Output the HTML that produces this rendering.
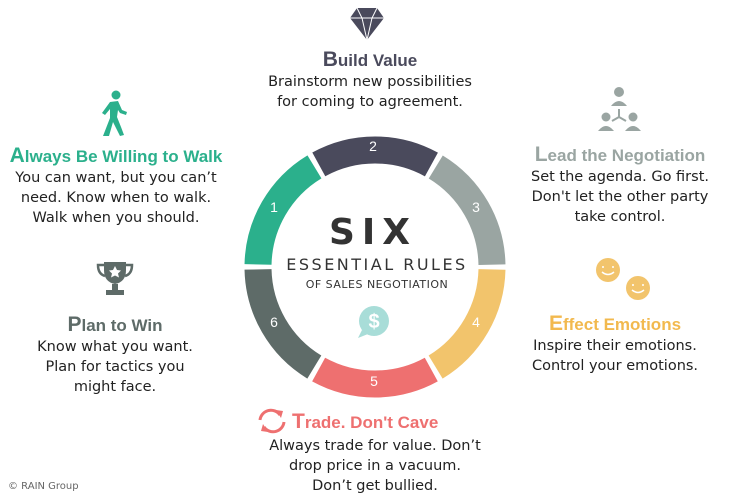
<!DOCTYPE html>
<html><head><meta charset="utf-8"><style>
body{margin:0;width:735px;height:500px;background:#fff;position:relative;overflow:hidden;font-family:"DejaVu Sans","Liberation Sans",sans-serif;}
.b{position:absolute;text-align:center;color:#222;font-size:14.5px;line-height:20px;}
.t{font-family:"Liberation Sans",sans-serif;font-weight:bold;font-size:17px;line-height:22px;white-space:nowrap;}
.t span{font-size:21px;}
</style></head><body>
<svg width="735" height="500" style="position:absolute;left:0;top:0">
<g fill="none" stroke-width="27">
<circle cx="375" cy="267" r="117" stroke="#f2c46c" stroke-dasharray="117.5 617.6" stroke-dashoffset="-2.5"/>
<circle cx="375" cy="267" r="117" stroke="#ee7070" stroke-dasharray="117.5 617.6" stroke-dashoffset="-125"/>
<circle cx="375" cy="267" r="117" stroke="#5e6b68" stroke-dasharray="117.5 617.6" stroke-dashoffset="-247.5"/>
<circle cx="375" cy="267" r="117" stroke="#2bb08c" stroke-dasharray="117.5 617.6" stroke-dashoffset="-370"/>
<circle cx="375" cy="267" r="117" stroke="#4a4a5c" stroke-dasharray="117.5 617.6" stroke-dashoffset="-492.5"/>
<circle cx="375" cy="267" r="117" stroke="#9aa5a2" stroke-dasharray="117.5 617.6" stroke-dashoffset="-615"/>
</g>
<g fill="#fff" font-size="14" font-family="Liberation Sans,sans-serif" text-anchor="middle">
<text x="373" y="151">2</text><text x="476" y="212">3</text><text x="476" y="327">4</text>
<text x="374" y="386">5</text><text x="274" y="327">6</text><text x="274" y="212">1</text></g>
<g fill="#333" text-anchor="middle" font-family="DejaVu Sans,sans-serif">
<text x="373" y="244" font-size="36" font-weight="bold" letter-spacing="7">SIX</text>
<text x="377" y="270" font-size="16" letter-spacing="2.5">ESSENTIAL RULES</text>
<text x="377" y="288" font-size="11" letter-spacing="0.5">OF SALES NEGOTIATION</text></g>
<circle cx="374" cy="321" r="15" fill="#a8ddd8"/><path d="M362 330 L358 338 L368 334Z" fill="#a8ddd8"/>
<text x="374" y="328" fill="#fff" font-size="20" font-weight="bold" text-anchor="middle" font-family="Liberation Sans">$</text>
<path d="M350 18 L357 8 L377 8 L384 18 L367 40Z" fill="#4a4a5c"/>
<path d="M350 18 L384 18 M357 8 L362 18 L367 40 L372 18 L377 8" stroke="#fff" stroke-width="1" fill="none"/>
<g fill="#2bb08c"><circle cx="116" cy="95" r="4.5"/>
<path d="M110 102 L118 101 L122 110 L127 112 L126 115 L120 113 L118 110 L117 117 L121 127 L124 135 L120 136 L113 122 L109 136 L103 136 L110 118 L110 109 L105 115 L102 113Z"/></g>
<g fill="#9aa5a2"><circle cx="619" cy="92" r="5"/><path d="M611 106 q8-10 16 0z"/>
<circle cx="606" cy="117" r="4.5"/><path d="M598 131 q8-10 16 0z"/>
<circle cx="633" cy="117" r="4.5"/><path d="M625 131 q8-10 16 0z"/>
<path d="M619 109 v8 M619 117 l-7 4 M619 117 l7 4" stroke="#9aa5a2" stroke-width="2"/></g>
<g fill="#5e6b68"><path d="M104 262 h22 v8 q0 12 -11 14 q-11 -2 -11 -14z"/>
<path d="M104 265 h-6 q0 9 7 11 M126 265 h6 q0 9 -7 11" stroke="#5e6b68" stroke-width="2.5" fill="none"/>
<rect x="112" y="284" width="6" height="6"/><rect x="106" y="290" width="18" height="5"/></g>
<path d="M115 266 l2 4 4 .5 -3 3 1 4 -4 -2 -4 2 1 -4 -3 -3 4 -.5z" fill="#fff"/>
<g fill="#f2c46c"><circle cx="608" cy="270" r="12"/><circle cx="638" cy="288" r="12"/></g>
<g stroke="#fff" stroke-width="1.5" fill="none"><path d="M602 272 q6 5 12 0 M632 290 q6 5 12 0"/>
<path d="M603 266 v2 M613 266 v2 M633 284 v2 M643 284 v2"/></g>
<g stroke="#ee7070" stroke-width="3" fill="none"><path d="M260 420 a11 11 0 0 1 20 -5"/><path d="M284 422 a11 11 0 0 1 -20 5"/></g>
<path d="M276 410 l7 1 -2 7z M268 432 l-7 -1 2 -7z" fill="#ee7070"/>
</svg>
<div class="b" style="left:250px;top:49px;width:240px"><div class="t" style="color:#4a4a5c"><span>B</span>uild Value</div>Brainstorm new possibilities<br>for coming to agreement.</div>
<div class="b" style="left:0;top:145px;width:232px"><div class="t" style="color:#2bb08c"><span>A</span>lways Be Willing to Walk</div>You can want, but you can’t<br>need. Know when to walk.<br>Walk when you should.</div>
<div class="b" style="left:500px;top:144px;width:240px"><div class="t" style="color:#9aa5a2"><span>L</span>ead the Negotiation</div>Set the agenda. Go first.<br>Don't let the other party<br>take control.</div>
<div class="b" style="left:20px;top:314px;width:190px"><div class="t" style="color:#5e6b68"><span>P</span>lan to Win</div>Know what you want.<br>Plan for tactics you<br>might face.</div>
<div class="b" style="left:515px;top:313px;width:200px"><div class="t" style="color:#f2b94e"><span>E</span>ffect Emotions</div>Inspire their emotions.<br>Control your emotions.</div>
<div class="b" style="left:292px;top:411px;width:200px;text-align:left"><div class="t" style="color:#ee7070"><span>T</span>rade. Don't Cave</div></div>
<div class="b" style="left:255px;top:436px;width:240px">Always trade for value. Don’t<br>drop price in a vacuum.<br>Don’t get bullied.</div>
<div style="position:absolute;left:8px;top:481px;font-size:10px;color:#666">© RAIN Group</div>
</body></html>
